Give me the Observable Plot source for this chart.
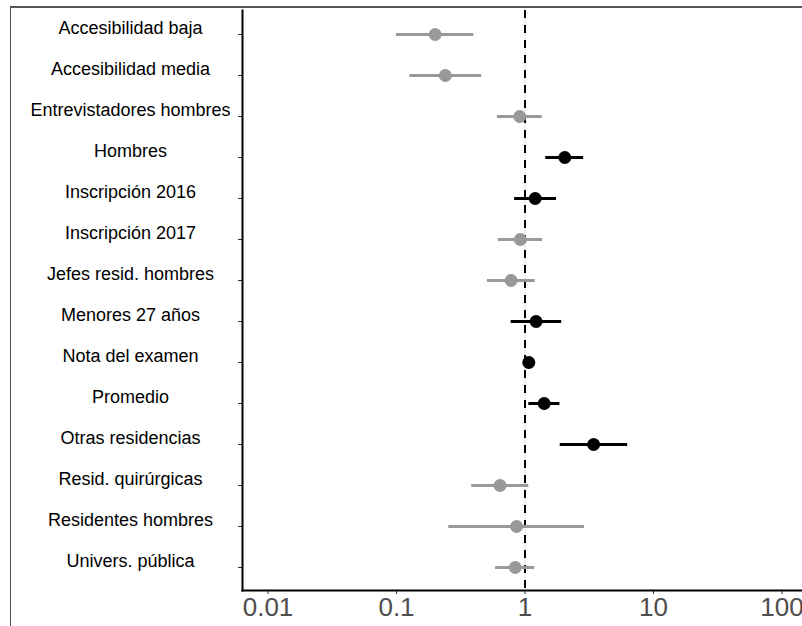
<!DOCTYPE html>
<html>
<head>
<meta charset="utf-8">
<script src="https://cdn.jsdelivr.net/npm/d3@7"></script>
<script src="https://cdn.jsdelivr.net/npm/@observablehq/plot@0.6"></script>
<style>
  html, body { margin: 0; padding: 0; background: #fff; }
  #wrap { position: relative; width: 802px; height: 626px; overflow: hidden; }
  #border { position: absolute; left: 10px; top: 6px; width: 1000px; height: 1000px;
            border-top: 2px solid #555; border-left: 1px solid #555; pointer-events: none; }
  svg { display: block; }
</style>
</head>
<body>
<div id="wrap"><div id="border"></div></div>
<script>
const categories = [
  "Accesibilidad baja", "Accesibilidad media", "Entrevistadores hombres", "Hombres",
  "Inscripción 2016", "Inscripción 2017", "Jefes resid. hombres", "Menores 27 años",
  "Nota del examen", "Promedio", "Otras residencias", "Resid. quirúrgicas",
  "Residentes hombres", "Univers. pública"
];
const estimate = [0.20, 0.24, 0.91, 2.04, 1.20, 0.92, 0.78, 1.22, 1.07, 1.41, 3.42, 0.64, 0.86, 0.84];
const lower    = [0.10, 0.127, 0.61, 1.45, 0.83, 0.62, 0.51, 0.78, 1.05, 1.07, 1.88, 0.385, 0.255, 0.59];
const upper    = [0.40, 0.46, 1.36, 2.86, 1.76, 1.37, 1.20, 1.93, 1.09, 1.87, 6.3, 1.07, 2.90, 1.19];
const significant = [false, false, false, true, true, false, false, true, true, true, true, false, false, false];
const xTicks = [0.01, 0.1, 1, 10, 100];

const data = categories.map((name, i) => ({
  name, est: estimate[i], lo: lower[i], hi: upper[i], sig: significant[i]
}));

const chart = Plot.plot({
  width: 802,
  height: 626,
  marginLeft: 242,
  marginRight: 0,
  marginTop: 10,
  marginBottom: 36,
  style: { fontFamily: "Arial, 'Liberation Sans', sans-serif", background: "transparent" },
  x: { type: "log", domain: [0.00633, 144.4] },
  y: { type: "point", domain: categories, padding: 0.57 },
  color: { domain: [true, false], range: ["black", "#999999"] },
  marks: [
    Plot.ruleX([1], { stroke: "#e2e2e2", strokeWidth: 1 }),
    Plot.ruleX([1], { stroke: "black", strokeWidth: 2, strokeDasharray: "8,7" }),
    Plot.ruleY(data, { y: "name", x1: "lo", x2: "hi", stroke: "sig", strokeWidth: 3 }),
    Plot.dot(data, { x: "est", y: "name", r: 6.5, fill: "sig", stroke: null }),
    Plot.axisX({ ticks: xTicks, tickFormat: d => String(d), tickSize: 4, tickPadding: 3,
                 fontSize: 26, fill: "#4d4d4d", stroke: "#333", label: null }),
    Plot.axisY({ tickSize: 4, tickFormat: () => "", stroke: "#333", label: null }),
    Plot.text(categories, { y: d => d, frameAnchor: "left", dx: -112, dy: -6,
                            textAnchor: "middle", fontSize: 18, fill: "black" }),
    Plot.frame({ anchor: "left", stroke: "black", strokeWidth: 2 }),
    Plot.frame({ anchor: "bottom", stroke: "black", strokeWidth: 2 })
  ]
});
document.getElementById("wrap").appendChild(chart);
</script>
</body>
</html>
